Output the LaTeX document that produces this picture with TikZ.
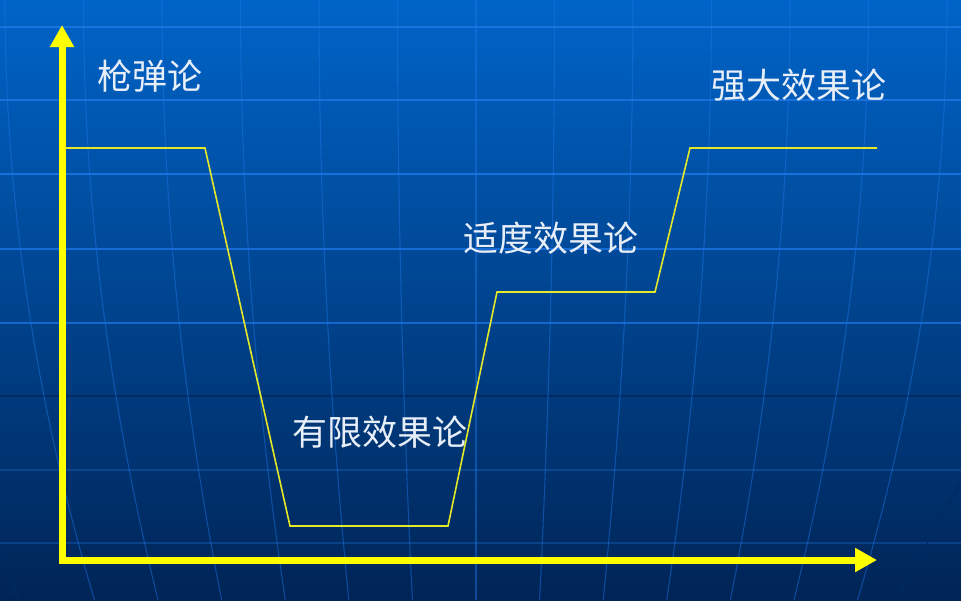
\documentclass[tikz,border=0pt]{standalone}
\usepackage{fontspec}
\newfontfamily\cjkfont{Noto Sans CJK SC}
\usetikzlibrary{arrows.meta}

\definecolor{bgtop}{RGB}{0,100,200}
\definecolor{bgmid}{RGB}{0,76,158}
\definecolor{bgbot}{RGB}{0,36,86}
\definecolor{gridblue}{RGB}{30,120,232}
\definecolor{griddark}{RGB}{0,42,98}
\definecolor{axisyellow}{RGB}{255,255,0}
\definecolor{trendyellow}{RGB}{228,232,40}
\definecolor{labelwhite}{RGB}{232,238,248}

\begin{document}
\begin{tikzpicture}[x=1pt,y=-1pt,
  gridline/.style={draw=gridblue,line width=1.3pt},
  meridian/.style={draw=gridblue,line width=1.1pt,opacity=.45},
  axis/.style={draw=axisyellow,line width=7pt,line join=miter},
  trend/.style={draw=trendyellow,line width=1.6pt,line join=miter},
  stagelabel/.style={text=labelwhite,inner sep=0pt,font=\cjkfont\fontsize{35}{40}\selectfont}
]
  \useasboundingbox (0,0) rectangle (961,600);
  \shade[top color=bgtop,middle color=bgmid,bottom color=bgbot] (0,0) rectangle (961,600);

  % background globe
  \foreach \y/\op in {27/.8,100/.8,174/.8,249/.75,323/.7,470/.3,543/.3}
    \draw[gridline,opacity=\op] (0,\y) -- (961,\y);
  \draw[draw=griddark,line width=1.3pt] (0,396) -- (961,396);
  \foreach \k in {0,...,12}{
    \pgfmathsetmacro\xt{5+78.5*\k}
    \pgfmathsetmacro\xb{476+(\xt-476)*0.81}
    \pgfmathsetmacro\xc{\xb+2/3*(\xt-\xb)}
    \draw[meridian] (\xt,0) .. controls (\xt,200) and (\xc,400) .. (\xb,600);
  }
  \draw[draw=griddark,line width=1.2pt] (961,482) .. controls (935,530) and (915,565) .. (897,600);
  \draw[draw=griddark,line width=1.2pt] (0,548) .. controls (6,565) and (12,583) .. (18,600);

  % axes
  \coordinate (ytip) at (62,25);
  \coordinate (origin) at (62,560);
  \coordinate (xtip) at (877,560);
  \draw[axis,{Triangle[length=22pt,width=23pt]}-{Triangle[length=22pt,width=23pt]}]
    (ytip) -- (origin) -- (xtip);

  % effect curve
  \coordinate (bulletstart) at (65,148);
  \coordinate (bulletend) at (205,148);
  \coordinate (limitedstart) at (290,526);
  \coordinate (limitedend) at (448,526);
  \coordinate (moderatestart) at (497,292);
  \coordinate (moderateend) at (655,292);
  \coordinate (powerfulstart) at (690,148);
  \coordinate (powerfulend) at (877,148);
  \draw[trend] (bulletstart) -- (bulletend) -- (limitedstart) -- (limitedend)
    -- (moderatestart) -- (moderateend) -- (powerfulstart) -- (powerfulend);

  \node[stagelabel] (bullet) at (150,76) {枪弹论};
  \node[stagelabel] (powerful) at (799,85) {强大效果论};
  \node[stagelabel] (moderate) at (551,238) {适度效果论};
  \node[stagelabel] (limited) at (380,432) {有限效果论};
\end{tikzpicture}
\end{document}
